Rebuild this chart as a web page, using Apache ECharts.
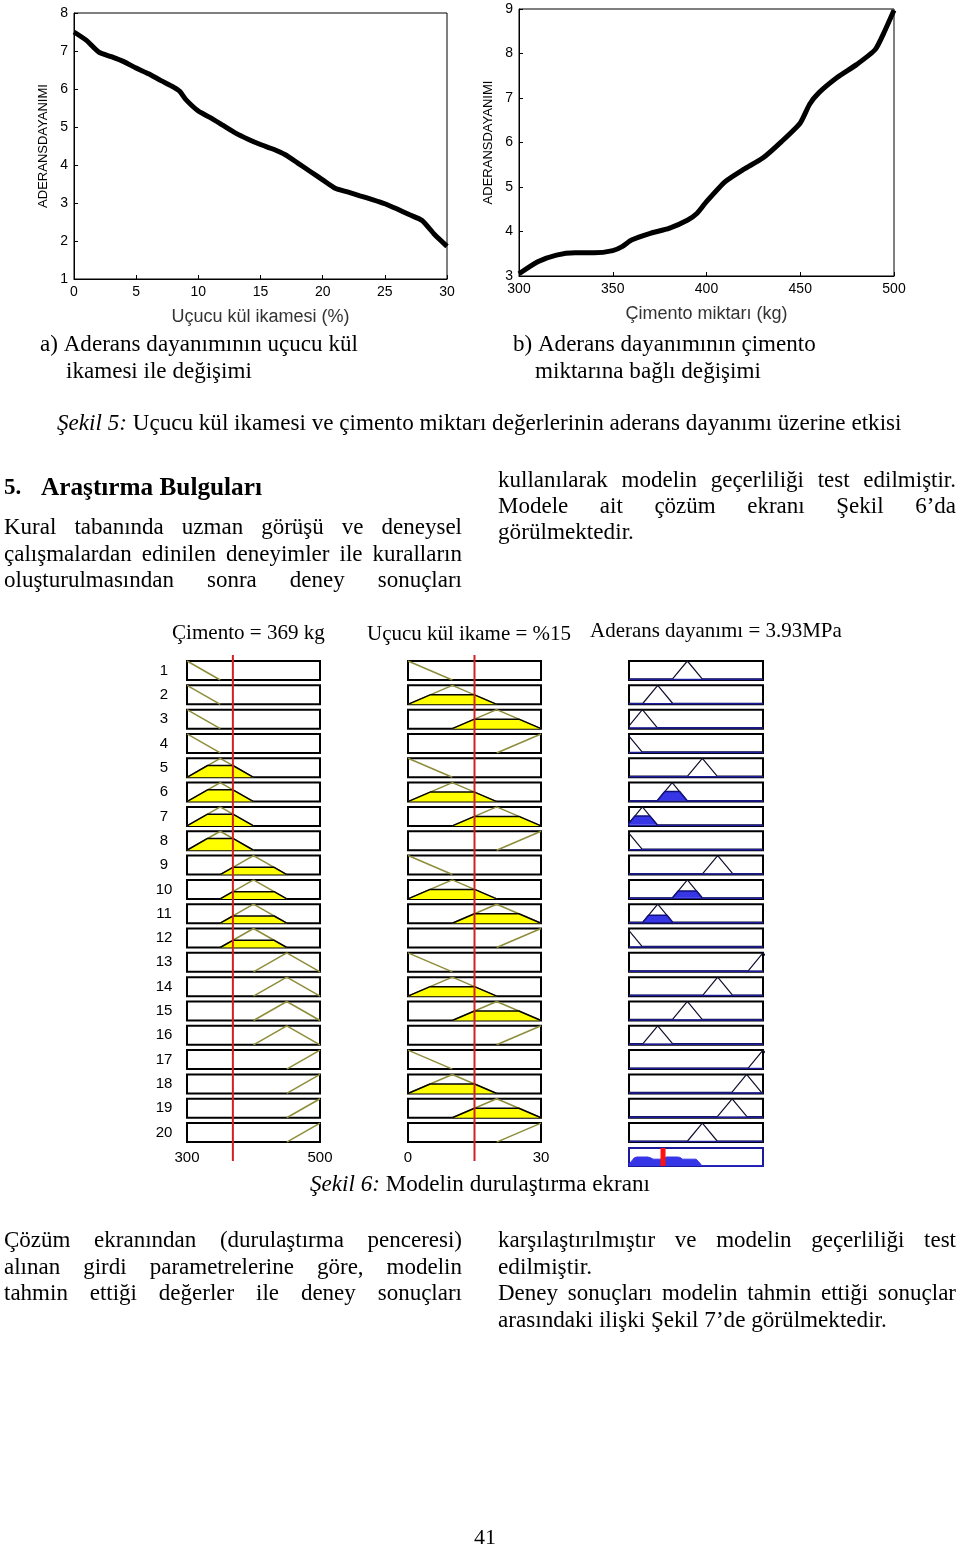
<!DOCTYPE html>
<html>
<head>
<meta charset="utf-8">
<script src="https://cdn.jsdelivr.net/npm/echarts@6/dist/echarts.min.js"></script>
<style>
html, body { margin: 0; padding: 0; background: #fff; }
#chart { width: 960px; height: 1549px; }
</style>
</head>
<body>
<div id="chart"></div>
<script>
// Şekil 5a: bond strength vs fly ash replacement (%)
const ashX = [0, 1, 2, 3, 4, 5, 6, 7, 8, 8.5, 9, 10, 11, 12, 13, 14, 15, 16, 17, 18, 19, 20, 21, 22, 23, 24, 25, 26, 27, 28, 29, 30];
const ashBond = [7.5, 7.28, 6.97, 6.85, 6.72, 6.55, 6.4, 6.22, 6.05, 5.94, 5.72, 5.42, 5.24, 5.04, 4.84, 4.68, 4.54, 4.42, 4.27, 4.05, 3.83, 3.61, 3.39, 3.29, 3.19, 3.09, 2.98, 2.84, 2.69, 2.54, 2.17, 1.86];

// Şekil 5b: bond strength vs cement content (kg)
const cementX = [300, 310, 320, 330, 340, 350, 355, 360, 370, 380, 390, 395, 400, 410, 420, 430, 440, 450, 455, 460, 470, 480, 490, 495, 500];
const cementBond = [3.05, 3.32, 3.47, 3.52, 3.52, 3.57, 3.66, 3.81, 3.96, 4.07, 4.26, 4.41, 4.67, 5.12, 5.4, 5.65, 6.02, 6.44, 6.86, 7.12, 7.47, 7.75, 8.09, 8.5, 8.97];

// Şekil 6: rule viewer
const cementValue = 369, ashValue = 15, bondValue = 3.93;
const cementRange = [300, 500], ashRange = [0, 30], bondRange = [2, 9.6];
const cementMF = [[300, 300, 350], [300, 350, 400], [350, 400, 450], [400, 450, 500], [450, 500, 500]];
const ashMF = [[0, 0, 10], [0, 10, 20], [10, 20, 30], [20, 30, 30]];
const bondMF = [[1.06, 1.9, 2.74], [1.92, 2.76, 3.6], [2.79, 3.63, 4.47], [3.61, 4.45, 5.29], [4.47, 5.31, 6.15],
                [5.32, 6.16, 7.0], [6.19, 7.03, 7.87], [7.01, 7.85, 8.69], [7.83, 8.67, 9.51], [8.76, 9.6, 10.44]];
const ruleCement = [0, 0, 0, 0, 1, 1, 1, 1, 2, 2, 2, 2, 3, 3, 3, 3, 4, 4, 4, 4];
const ruleAsh = [0, 1, 2, 3, 0, 1, 2, 3, 0, 1, 2, 3, 0, 1, 2, 3, 0, 1, 2, 3];
const ruleBond = [4, 2, 1, 0, 5, 3, 1, 0, 6, 4, 2, 0, 9, 6, 4, 2, 9, 8, 7, 5];

const sans = 'Liberation Sans', serif = 'Liberation Serif';

function mu(mf, x) {
  const [a, b, c] = mf;
  if (x < a || x > c) return 0;
  if (x <= b) return a === b ? 1 : (x - a) / (b - a);
  return c === b ? 1 : (c - x) / (c - b);
}
// triangle only (no zero baseline) for the input columns
function triangle(mf) {
  const [a, b, c] = mf;
  const pts = [];
  if (a !== b) pts.push([a, 0]);
  pts.push([b, 1]);
  if (c !== b) pts.push([c, 0]);
  return pts;
}
// full membership curve over the range (output column)
function outline(mf, range) {
  const [a, b, c] = mf;
  return [[range[0], mu(mf, range[0])], [a, a === b ? 1 : 0], [b, 1], [c, c === b ? 1 : 0], [range[1], mu(mf, range[1])]]
    .sort((p, q) => p[0] - q[0]);
}
function clipped(mf, h) {
  const [a, b, c] = mf;
  return [[a, 0], [a + (b - a) * h, h], [c - (c - b) * h, h], [c, 0]];
}

const grids = [], xAxes = [], yAxes = [], series = [];
function addGrid(g, x, y) {
  grids.push(Object.assign({ outerBoundsMode: 'none' }, g));
  const i = grids.length - 1;
  xAxes.push(Object.assign({ gridIndex: i, type: 'value' }, x));
  yAxes.push(Object.assign({ gridIndex: i, type: 'value' }, y));
  return i;
}

// --- top charts ---
function topAxis(extra) {
  return Object.assign({
    axisLine: { show: true, lineStyle: { color: '#000', width: 1 } },
    axisTick: { show: true, inside: true, length: 4, lineStyle: { color: '#000' } },
    axisLabel: { color: '#000', fontSize: 14, fontFamily: sans, margin: 6 },
    splitLine: { show: false },
    nameLocation: 'middle'
  }, extra);
}
const gA = addGrid({ left: 74, top: 13, width: 373, height: 266, show: true, borderColor: '#000', borderWidth: 1 },
  topAxis({ min: 0, max: 30, interval: 5, name: 'Uçucu kül ikamesi (%)', nameGap: 29,
    nameTextStyle: { fontSize: 18, fontFamily: sans, color: '#333' } }),
  topAxis({ min: 1, max: 8, interval: 1, name: 'ADERANSDAYANIMI', nameGap: 24,
    nameTextStyle: { fontSize: 13, fontFamily: sans, color: '#000' } }));
const gB = addGrid({ left: 519, top: 9, width: 375, height: 267, show: true, borderColor: '#000', borderWidth: 1 },
  topAxis({ min: 300, max: 500, interval: 50, name: 'Çimento miktarı (kg)', nameGap: 29,
    nameTextStyle: { fontSize: 18, fontFamily: sans, color: '#333' } }),
  topAxis({ min: 3, max: 9, interval: 1, name: 'ADERANSDAYANIMI', nameGap: 24,
    nameTextStyle: { fontSize: 13, fontFamily: sans, color: '#000' } }));
series.push({ type: 'line', xAxisIndex: gA, yAxisIndex: gA, data: ashX.map((x, i) => [x, ashBond[i]]),
  symbol: 'none', smooth: 0.2, lineStyle: { color: '#000', width: 5 } });
series.push({ type: 'line', xAxisIndex: gB, yAxisIndex: gB, data: cementX.map((x, i) => [x, cementBond[i]]),
  symbol: 'none', smooth: 0.2, lineStyle: { color: '#000', width: 5 } });

// --- rule viewer ---
const COLS = [
  { left: 187, width: 133, range: cementRange, labels: [300, 500] },
  { left: 408, width: 133, range: ashRange, labels: [0, 30] },
  { left: 629, width: 134, range: bondRange }
];
const ROW_TOP = 661, ROW_STEP = 24.32, ROW_H = 19;
const hidden = { show: false };

ruleCement.forEach((ci, r) => {
  const m1 = mu(cementMF[ci], cementValue);
  const m2 = mu(ashMF[ruleAsh[r]], ashValue);
  const fire = Math.min(m1, m2);
  COLS.forEach((col, k) => {
    const showLab = r === 19 && k < 2;
    const g = addGrid(
      { left: col.left, top: ROW_TOP + r * ROW_STEP, width: col.width, height: ROW_H, show: true,
        backgroundColor: '#fff', borderColor: '#000', borderWidth: 2 },
      { min: col.range[0], max: col.range[1], show: showLab, axisLine: hidden, axisTick: hidden, splitLine: hidden,
        axisLabel: { show: showLab, customValues: col.labels, color: '#000', fontSize: 15, fontFamily: sans, margin: 8 } },
      { min: k === 2 ? -0.06 : 0, max: 1, show: false });
    const mf = k === 0 ? cementMF[ci] : k === 1 ? ashMF[ruleAsh[r]] : bondMF[ruleBond[r]];
    const h = k === 0 ? m1 : k === 1 ? m2 : fire;
    const inputCol = k < 2;
    series.push({ type: 'line', xAxisIndex: g, yAxisIndex: g, data: inputCol ? triangle(mf) : outline(mf, col.range),
      symbol: 'none', z: 3, lineStyle: { color: inputCol ? '#8d8d3a' : '#101030', width: inputCol ? 1.5 : 1.2 } });
    if (h > 0) {
      series.push({ type: 'line', xAxisIndex: g, yAxisIndex: g, data: clipped(mf, h), symbol: 'none', z: 4,
        areaStyle: { color: inputCol ? '#ffff00' : '#3636e6', opacity: 1 },
        lineStyle: { color: inputCol ? '#000' : '#10107a', width: 1.5 } });
    }
    if (!inputCol) {
      series.push({ type: 'line', xAxisIndex: g, yAxisIndex: g, data: [[col.range[0], -0.03], [col.range[1], -0.03]],
        symbol: 'none', z: 3, lineStyle: { color: '#1c1c9c', width: 1.5 } });
    }
  });
});

// aggregated output
const firing = ruleCement.map((ci, r) => Math.min(mu(cementMF[ci], cementValue), mu(ashMF[ruleAsh[r]], ashValue)));
const aggData = [];
for (let s = 0; s <= 300; s++) {
  const x = bondRange[0] + (bondRange[1] - bondRange[0]) * s / 300;
  let y = 0;
  firing.forEach((f, r) => { y = Math.max(y, Math.min(f, mu(bondMF[ruleBond[r]], x))); });
  aggData.push([x, y]);
}
const gOut = addGrid({ left: 629, top: 1148, width: 134, height: 18, show: true, backgroundColor: '#fff',
  borderColor: '#1a1a9a', borderWidth: 2 },
  { min: bondRange[0], max: bondRange[1], show: false }, { min: 0, max: 1, show: false });
series.push({ type: 'line', xAxisIndex: gOut, yAxisIndex: gOut, data: aggData, symbol: 'none', z: 3,
  areaStyle: { color: '#3636e6', opacity: 1 }, lineStyle: { color: '#3636e6', width: 1 } });
series.push({ type: 'line', xAxisIndex: gOut, yAxisIndex: gOut, data: [[bondValue, 0], [bondValue, 1]], symbol: 'none', z: 5,
  lineStyle: { color: '#ff1010', width: 5 } });

// red input lines across all rows
[[0, cementValue], [1, ashValue]].forEach(([k, v]) => {
  const col = COLS[k];
  const g = addGrid({ left: col.left, top: 655, width: col.width, height: 506, show: false },
    { min: col.range[0], max: col.range[1], show: false }, { min: 0, max: 1, show: false });
  series.push({ type: 'line', xAxisIndex: g, yAxisIndex: g, data: [[v, 0], [v, 1]], symbol: 'none', z: 10,
    lineStyle: { color: '#d42020', width: 2 } });
});

// --- page text ---
const ctx = document.createElement('canvas').getContext('2d');
const graphics = [];
function font(size, italic, bold) {
  return (italic ? 'italic ' : '') + (bold ? 'bold ' : '') + size + 'px "' + serif + '"';
}
function put(text, x, y, opts) {
  graphics.push({ type: 'text', x: x, y: y, z: 20,
    style: Object.assign({ text: text, fontFamily: serif, fontSize: 22, fill: '#000', verticalAlign: 'middle' }, opts || {}) });
}
// words spread to fill the column width
function justified(text, x0, x1, y, size) {
  size = size || 23;
  ctx.font = font(size);
  const words = text.split(' ');
  const w = words.map(s => ctx.measureText(s).width);
  const gap = (x1 - x0 - w.reduce((a, b) => a + b, 0)) / (words.length - 1);
  let x = x0;
  words.forEach((s, i) => { put(s, x, y, { fontSize: size }); x += w[i] + gap; });
}
// left aligned line sized to span x0..x1; parts = [[text, italic]]
function fitted(parts, x0, x1, y, bold) {
  let total = 0;
  parts.forEach(([t, it]) => { ctx.font = font(20, it, bold); total += ctx.measureText(t).width; });
  const size = 20 * (x1 - x0) / total;
  let x = x0;
  parts.forEach(([t, it]) => {
    put(t, x, y, { fontSize: size, fontStyle: it ? 'italic' : 'normal', fontWeight: bold ? 'bold' : 'normal' });
    ctx.font = font(size, it, bold);
    x += ctx.measureText(t).width;
  });
}

fitted([['a) Aderans dayanımının uçucu kül']], 40, 358, 345);
fitted([['ikamesi ile değişimi']], 66, 252, 372);
fitted([['b) Aderans dayanımının çimento']], 513, 816, 345);
fitted([['miktarına bağlı değişimi']], 535, 761, 372);
fitted([['Şekil 5:', true], [' Uçucu kül ikamesi ve çimento miktarı değerlerinin aderans dayanımı üzerine etkisi']], 57, 902, 424);

put('5.', 4, 488, { fontWeight: 'bold', fontSize: 23 });
fitted([['Araştırma Bulguları']], 41, 262, 488, true);
justified('Kural tabanında uzman görüşü ve deneysel', 4, 462, 528);
justified('çalışmalardan edinilen deneyimler ile kuralların', 4, 462, 555);
justified('oluşturulmasından sonra deney sonuçları', 4, 462, 581);
justified('kullanılarak modelin geçerliliği test edilmiştir.', 498, 956, 481);
justified('Modele ait çözüm ekranı Şekil 6’da', 498, 956, 507);
fitted([['görülmektedir.']], 498, 634, 533);

fitted([['Çimento = 369 kg']], 172, 325, 633);
fitted([['Uçucu kül ikame = %15']], 367, 571, 634);
fitted([['Aderans dayanımı = 3.93MPa']], 590, 842, 631);
for (let r = 0; r < 20; r++) {
  put(String(r + 1), 164, ROW_TOP + r * ROW_STEP + ROW_H / 2, { fontFamily: sans, fontSize: 15, align: 'center' });
}
fitted([['Şekil 6:', true], [' Modelin durulaştırma ekranı']], 310, 650, 1185);

justified('Çözüm ekranından (durulaştırma penceresi)', 4, 462, 1241);
justified('alınan girdi parametrelerine göre, modelin', 4, 462, 1268);
justified('tahmin ettiği değerler ile deney sonuçları', 4, 462, 1294);
justified('karşılaştırılmıştır ve modelin geçerliliği test', 498, 956, 1241);
fitted([['edilmiştir.']], 498, 592, 1268);
justified('Deney sonuçları modelin tahmin ettiği sonuçlar', 498, 956, 1294);
fitted([['arasındaki ilişki Şekil 7’de görülmektedir.']], 498, 887, 1321);
put('41', 485, 1538, { align: 'center', fontSize: 22 });

const chart = echarts.init(document.getElementById('chart'));
chart.setOption({
  animation: false,
  backgroundColor: '#fff',
  grid: grids,
  xAxis: xAxes,
  yAxis: yAxes,
  series: series,
  graphic: graphics
});
</script>
</body>
</html>
